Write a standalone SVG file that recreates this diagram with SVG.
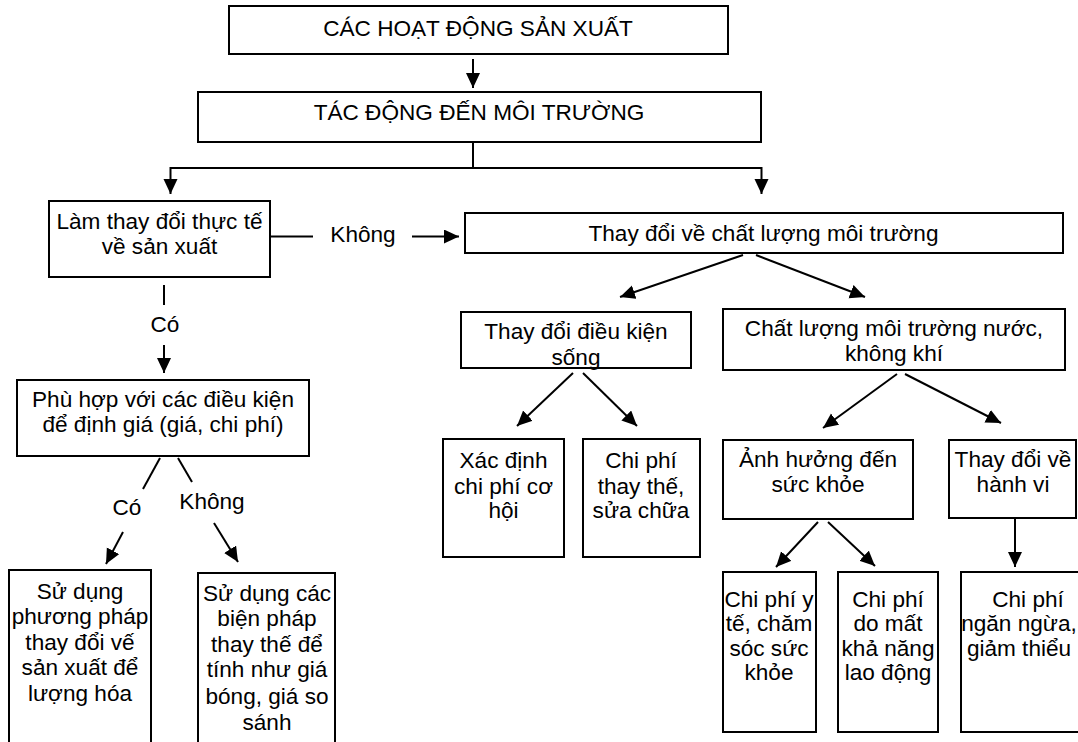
<svg xmlns="http://www.w3.org/2000/svg" width="1078" height="742" viewBox="0 0 1078 742">
<style>
  .box { fill: #ffffff; stroke: #000000; stroke-width: 2; }
  .t { font-family: "Liberation Sans", Arial, sans-serif; font-size: 22.6px; fill: #000000; text-anchor: middle; }
  .c { stroke: #000000; stroke-width: 2; fill: none; }
  .a { stroke: #000000; stroke-width: 2; fill: none; marker-end: url(#ah); }
</style>
<defs>
  <marker id="ah" markerUnits="userSpaceOnUse" markerWidth="16" markerHeight="15" refX="15" refY="7" orient="auto">
    <path d="M0,0 L15,7 L0,14 z" fill="#000000"/>
  </marker>
</defs>
<rect x="0" y="0" width="1078" height="742" fill="#ffffff"/>

<g id="connectors">
  <line class="a" x1="473" y1="59" x2="473" y2="88"/>
  <line class="c" x1="473" y1="143" x2="473" y2="168"/>
  <line class="c" x1="170.5" y1="168" x2="761.5" y2="168"/>
  <line class="a" x1="170.5" y1="167" x2="170.5" y2="194"/>
  <line class="a" x1="761.5" y1="167" x2="761.5" y2="194"/>
  <line class="c" x1="270" y1="236.5" x2="313" y2="236.5"/>
  <line class="a" x1="412" y1="236.5" x2="459" y2="236.5"/>
  <line class="c" x1="164" y1="285" x2="164" y2="305"/>
  <line class="a" x1="164" y1="345" x2="164" y2="373"/>
  <line class="c" x1="160" y1="458" x2="143" y2="489"/>
  <line class="a" x1="123" y1="532" x2="106" y2="564"/>
  <line class="c" x1="178" y1="458" x2="192" y2="482"/>
  <line class="a" x1="214" y1="523" x2="238" y2="562"/>
  <line class="a" x1="743" y1="255" x2="620" y2="297"/>
  <line class="a" x1="756" y1="255" x2="865" y2="297"/>
  <line class="a" x1="573" y1="373" x2="517" y2="426"/>
  <line class="a" x1="583" y1="373" x2="637" y2="426"/>
  <line class="a" x1="897" y1="374" x2="823" y2="428"/>
  <line class="a" x1="905" y1="374" x2="1001" y2="423"/>
  <line class="a" x1="818" y1="522" x2="776" y2="567"/>
  <line class="a" x1="828" y1="522" x2="875" y2="566"/>
  <line class="a" x1="1015" y1="519" x2="1015" y2="567"/>
</g>

<g id="labels">
  <text class="t" x="363" y="242">Không</text>
  <text class="t" x="165" y="332">Có</text>
  <text class="t" x="127" y="515">Có</text>
  <text class="t" x="212" y="509">Không</text>
</g>

<g id="n1">
  <rect class="box" x="229" y="6" width="499" height="48"/>
  <text class="t" x="478" y="35.5">CÁC HOẠT ĐỘNG SẢN XUẤT</text>
</g>
<g id="n2">
  <rect class="box" x="198" y="92" width="563" height="50"/>
  <text class="t" x="479" y="119.5">TÁC ĐỘNG ĐẾN MÔI TRƯỜNG</text>
</g>
<g id="n3">
  <rect class="box" x="49" y="201" width="221" height="76"/>
  <text class="t" x="159.5" y="228.5">Làm thay đổi thực tế</text>
  <text class="t" x="159.5" y="253.5">về sản xuất</text>
</g>
<g id="n4">
  <rect class="box" x="465" y="213" width="598" height="40"/>
  <text class="t" x="763.5" y="240.5">Thay đổi về chất lượng môi trường</text>
</g>
<g id="n5">
  <rect class="box" x="17" y="380" width="292" height="76"/>
  <text class="t" x="163" y="407">Phù hợp với các điều kiện</text>
  <text class="t" x="163" y="432">để định giá (giá, chi phí)</text>
</g>
<g id="n6">
  <rect class="box" x="9" y="570" width="142" height="200"/>
  <text class="t" x="80" y="598.5">Sử dụng</text>
  <text class="t" x="80" y="624">phương pháp</text>
  <text class="t" x="80" y="649.5">thay đổi vế</text>
  <text class="t" x="80" y="675">sản xuất để</text>
  <text class="t" x="80" y="700.5">lượng hóa</text>
</g>
<g id="n7">
  <rect class="box" x="198" y="573" width="137" height="200"/>
  <text class="t" x="267" y="600.5">Sử dụng các</text>
  <text class="t" x="267" y="626">biện pháp</text>
  <text class="t" x="267" y="651.5">thay thế để</text>
  <text class="t" x="267" y="677">tính như giá</text>
  <text class="t" x="267" y="703.5">bóng, giá so</text>
  <text class="t" x="267" y="729.5">sánh</text>
</g>
<g id="n8">
  <rect class="box" x="461" y="312" width="230" height="56"/>
  <text class="t" x="576" y="338.5">Thay đổi điều kiện</text>
  <text class="t" x="576" y="365">sống</text>
</g>
<g id="n9">
  <rect class="box" x="723" y="309" width="342" height="61"/>
  <text class="t" x="894" y="335.5">Chất lượng môi trường nước,</text>
  <text class="t" x="894" y="360.5">không khí</text>
</g>
<g id="n10">
  <rect class="box" x="443" y="439" width="121" height="118"/>
  <text class="t" x="503.5" y="468">Xác định</text>
  <text class="t" x="503.5" y="494">chi phí cơ</text>
  <text class="t" x="503.5" y="518">hội</text>
</g>
<g id="n11">
  <rect class="box" x="583" y="439" width="117" height="118"/>
  <text class="t" x="641" y="468">Chi phí</text>
  <text class="t" x="641" y="494">thay thế,</text>
  <text class="t" x="641" y="518">sửa chữa</text>
</g>
<g id="n12">
  <rect class="box" x="723" y="440" width="190" height="79"/>
  <text class="t" x="818" y="467">Ảnh hưởng đến</text>
  <text class="t" x="818" y="492">sức khỏe</text>
</g>
<g id="n13">
  <rect class="box" x="949" y="440" width="127" height="78"/>
  <text class="t" x="1013" y="467">Thay đổi về</text>
  <text class="t" x="1013" y="492">hành vi</text>
</g>
<g id="n14">
  <rect class="box" x="723" y="572" width="93" height="160"/>
  <text class="t" x="769" y="606.5">Chi phí y</text>
  <text class="t" x="769" y="631">tế, chăm</text>
  <text class="t" x="769" y="655.5">sóc sức</text>
  <text class="t" x="769" y="680">khỏe</text>
</g>
<g id="n15">
  <rect class="box" x="838" y="572" width="100" height="160"/>
  <text class="t" x="888" y="606.5">Chi phí</text>
  <text class="t" x="888" y="631">do mất</text>
  <text class="t" x="888" y="655.5">khả năng</text>
  <text class="t" x="888" y="680">lao động</text>
</g>
<g id="n16">
  <rect class="box" x="961" y="572" width="140" height="160"/>
  <text class="t" x="1028" y="606.5">Chi phí</text>
  <text class="t" x="1019" y="631">ngăn ngừa,</text>
  <text class="t" x="1019" y="655.5">giảm thiểu</text>
</g>
</svg>
